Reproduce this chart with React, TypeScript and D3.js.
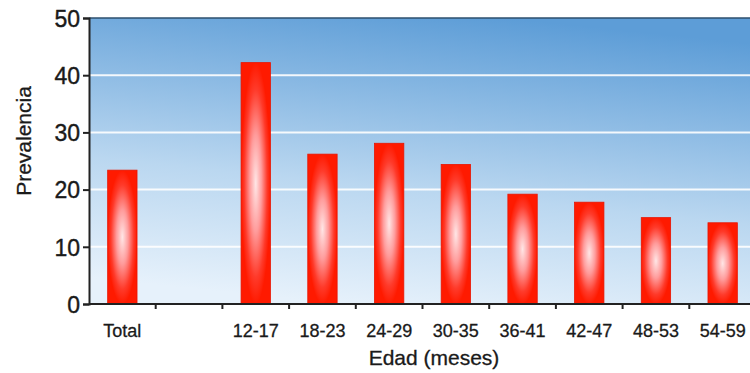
import * as d3 from 'd3';
import React, { useEffect, useRef } from 'react';

const categories = ['Total', '', '12-17', '18-23', '24-29', '30-35', '36-41', '42-47', '48-53', '54-59'];
const prevalence = [23.4, null, 42.2, 26.2, 28.1, 24.4, 19.2, 17.8, 15.1, 14.2];
const yTicks = [0, 10, 20, 30, 40, 50];

const App: React.FC = () => {
    const svgRef = useRef<SVGSVGElement | null>(null);

    useEffect(() => {
        const width = 750;
        const height = 373;
        const margin = { top: 18, right: -6, bottom: 69, left: 89 };
        const font = 'Liberation Sans, Arial, sans-serif';

        d3.select(svgRef.current).selectAll('*').remove();

        const svg = d3.select(svgRef.current)
            .attr('width', width)
            .attr('height', height);

        const defs = svg.append('defs');

        // Blue background gradient, light at the bottom
        const bg = defs.append('linearGradient')
            .attr('id', 'bg')
            .attr('x1', '0.38').attr('y1', '1')
            .attr('x2', '0.62').attr('y2', '0');
        bg.append('stop').attr('offset', '0').attr('stop-color', '#e6f1fb');
        bg.append('stop').attr('offset', '0.4').attr('stop-color', '#bad7f0');
        bg.append('stop').attr('offset', '1').attr('stop-color', '#5d9dd7');

        // Red bars with a white glow in the middle
        const glow = defs.append('radialGradient')
            .attr('id', 'glow')
            .attr('cx', '0.5').attr('cy', '0.5').attr('r', '0.5');
        glow.append('stop').attr('offset', '0').attr('stop-color', '#ffe6e6');
        glow.append('stop').attr('offset', '0.4').attr('stop-color', '#ff9c9c');
        glow.append('stop').attr('offset', '0.78').attr('stop-color', '#ff3a2a');
        glow.append('stop').attr('offset', '1').attr('stop-color', '#ff1a00');

        const x = d3.scaleBand<string>()
            .domain(categories.map((c, i) => `${i}`))
            .range([margin.left, width - margin.right])
            .paddingInner(0.56)
            .paddingOuter(0.28);

        const y = d3.scaleLinear().domain([0, 50]).range([height - margin.bottom, margin.top]);

        svg.append('rect')
            .attr('x', margin.left)
            .attr('y', margin.top)
            .attr('width', width - margin.right - margin.left)
            .attr('height', y(0) - margin.top)
            .attr('fill', 'url(#bg)');

        // White gridlines
        svg.selectAll('.grid')
            .data(yTicks.filter(t => t > 0 && t < 50))
            .enter()
            .append('line')
            .attr('x1', margin.left)
            .attr('x2', width - margin.right)
            .attr('y1', d => y(d))
            .attr('y2', d => y(d))
            .attr('stroke', '#ffffff')
            .attr('stroke-width', 2)
            .attr('opacity', 0.9);

        // Top border
        svg.append('line')
            .attr('x1', margin.left).attr('x2', width - margin.right)
            .attr('y1', margin.top).attr('y2', margin.top)
            .attr('stroke', '#2c4f6e').attr('stroke-width', 1.5);

        // Bars
        svg.selectAll('.bar')
            .data(prevalence.map((v, i) => ({ v, i })).filter(d => d.v !== null))
            .enter()
            .append('rect')
            .attr('x', d => x(`${d.i}`)!)
            .attr('y', d => y(d.v as number))
            .attr('width', x.bandwidth())
            .attr('height', d => y(0) - y(d.v as number))
            .attr('fill', 'url(#glow)')
            .attr('stroke', '#e81400')
            .attr('stroke-width', 0.8);

        // Y axis
        const yAxis = svg.append('g')
            .attr('transform', `translate(${margin.left},0)`)
            .call(d3.axisLeft(y).tickValues(yTicks).tickSize(6).tickPadding(3));
        yAxis.select('.domain').attr('stroke', '#222').attr('stroke-width', 2);
        yAxis.selectAll('.tick line').attr('stroke', '#222').attr('stroke-width', 2);
        yAxis.selectAll('.tick text')
            .attr('fill', '#1a1a1a')
            .attr('stroke', '#1a1a1a')
            .attr('stroke-width', 0.4)
            .attr('dy', '0.36em')
            .style('font-family', font)
            .style('font-size', '23px');

        // X axis with ticks between categories
        const xAxis = svg.append('g').attr('transform', `translate(0,${y(0)})`);
        xAxis.append('line')
            .attr('x1', margin.left).attr('x2', width - margin.right)
            .attr('stroke', '#222').attr('stroke-width', 2);
        const step = x.step();
        xAxis.selectAll('.tk')
            .data(d3.range(1, categories.length))
            .enter()
            .append('line')
            .attr('x1', i => margin.left + i * step)
            .attr('x2', i => margin.left + i * step)
            .attr('y1', 0).attr('y2', 5)
            .attr('stroke', '#222').attr('stroke-width', 2);
        xAxis.selectAll('.lbl')
            .data(categories)
            .enter()
            .append('text')
            .attr('x', (c, i) => x(`${i}`)! + x.bandwidth() / 2)
            .attr('y', 33)
            .attr('text-anchor', 'middle')
            .attr('fill', '#1a1a1a')
            .attr('stroke', '#1a1a1a')
            .attr('stroke-width', 0.3)
            .style('font-family', font)
            .style('font-size', '18px')
            .text(c => c);

        // Axis titles
        svg.append('text')
            .attr('x', 434)
            .attr('y', 365)
            .attr('text-anchor', 'middle')
            .attr('fill', '#1a1a1a')
            .attr('stroke', '#1a1a1a')
            .attr('stroke-width', 0.3)
            .style('font-family', font)
            .style('font-size', '21px')
            .text('Edad (meses)');

        svg.append('text')
            .attr('transform', 'translate(31,141) rotate(-90)')
            .attr('text-anchor', 'middle')
            .attr('fill', '#1a1a1a')
            .attr('stroke', '#1a1a1a')
            .attr('stroke-width', 0.3)
            .style('font-family', font)
            .style('font-size', '21px')
            .text('Prevalencia');
    }, []);

    return (
        <svg ref={svgRef} style={{ position: 'absolute', left: 0, top: 0, background: '#fff' }}></svg>
    );
};

export default App;
